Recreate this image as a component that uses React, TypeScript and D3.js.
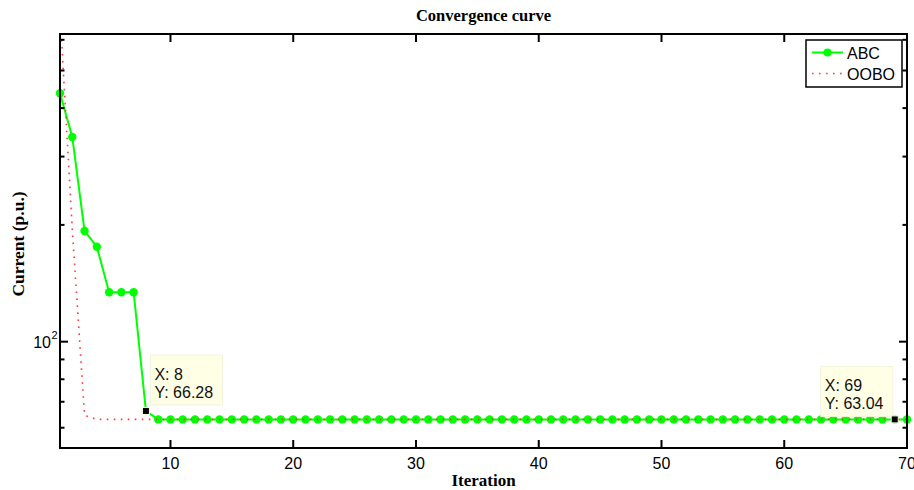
import React from "react";
import * as d3 from "d3";

const abcIter: number[] = Array.from({ length: 70 }, (_, i) => i + 1);
const abcHead: number[] = [436.8, 337, 192.9, 175.7, 134.1, 134.1, 134.1, 66.28];
const abcTailValue = 63.04;
const abcValues: number[] = abcIter.map((it) => (it <= abcHead.length ? abcHead[it - 1] : abcTailValue));

const ooboHead: number[] = [708, 195, 64.6];
const ooboValues: number[] = abcIter.map((it) => (it <= ooboHead.length ? ooboHead[it - 1] : abcTailValue));

const xTicks: number[] = [10, 20, 30, 40, 50, 60, 70];
const yMajorTicks: number[] = [100];
const yMinorTicks: number[] = [60, 70, 80, 90, 200, 300, 400, 500, 600];
const seriesNames: string[] = ["ABC", "OOBO"];
const tips = [
  { x: 8, y: 66.28 },
  { x: 69, y: 63.04 },
];

const W = 914;
const H = 490;
const L = 60;
const R = 907;
const T = 34;
const B = 448;

export default function App() {
  const x = d3.scaleLinear().domain([1, 70]).range([L, R]);
  const y = d3.scaleLog().domain([53.2, 621]).range([B, T]);
  const green = "#00ff00";
  const red = "#ff3b3b";
  const line = d3
    .line<number>()
    .x((_, i) => x(abcIter[i]))
    .y((d) => y(d));
  const sans = "'Liberation Sans', Arial, sans-serif";
  const serif = "'Liberation Serif', 'Times New Roman', serif";

  return (
    <svg width={W} height={H} style={{ position: "absolute", left: 0, top: 0, background: "#fff" }}>
      <defs>
        <clipPath id="plotclip">
          <rect x={L} y={T} width={R - L} height={B - T} />
        </clipPath>
      </defs>
      <rect x={0} y={0} width={W} height={H} fill="#fff" />
      {/* title */}
      <text x={(L + R) / 2} y={21} textAnchor="middle" fontFamily={serif} fontWeight="bold" fontSize={16.5}>
        Convergence curve
      </text>
      {/* ABC line */}
      <path d={line(abcValues) || ""} fill="none" stroke={green} strokeWidth={2} />
      {abcValues.map((v, i) => (
        <circle key={i} cx={x(abcIter[i])} cy={y(v)} r={4.2} fill={green} />
      ))}
      {/* OOBO line */}
      <path
        d={line(ooboValues) || ""}
        fill="none"
        stroke={red}
        strokeWidth={1.6}
        strokeDasharray="1.6 5.4"
        clipPath="url(#plotclip)"
      />
      {/* axes frame */}
      <rect x={L} y={T} width={R - L} height={B - T} fill="none" stroke="#000" strokeWidth={2} />
      {/* x ticks */}
      {xTicks.map((t) => (
        <g key={"xt" + t}>
          <line x1={x(t)} x2={x(t)} y1={B} y2={B - 8} stroke="#000" strokeWidth={2} />
          <line x1={x(t)} x2={x(t)} y1={T} y2={T + 8} stroke="#000" strokeWidth={2} />
          <text x={x(t)} y={469} textAnchor="middle" fontFamily={sans} fontSize={16}>
            {t}
          </text>
        </g>
      ))}
      {/* y ticks */}
      {yMajorTicks.map((t) => (
        <g key={"ym" + t}>
          <line x1={L} x2={L + 8} y1={y(t)} y2={y(t)} stroke="#000" strokeWidth={2} />
          <line x1={R} x2={R - 8} y1={y(t)} y2={y(t)} stroke="#000" strokeWidth={2} />
          <text x={51} y={y(t) + 6} textAnchor="end" fontFamily={sans} fontSize={16}>
            10
          </text>
          <text x={51.5} y={y(t) - 3} fontFamily={sans} fontSize={11}>
            2
          </text>
        </g>
      ))}
      {yMinorTicks.map((t) => (
        <g key={"yn" + t}>
          <line x1={L} x2={L + 4.5} y1={y(t)} y2={y(t)} stroke="#000" strokeWidth={2} />
          <line x1={R} x2={R - 4.5} y1={y(t)} y2={y(t)} stroke="#000" strokeWidth={2} />
        </g>
      ))}
      {/* axis labels */}
      <text x={(L + R) / 2} y={486} textAnchor="middle" fontFamily={serif} fontWeight="bold" fontSize={17}>
        Iteration
      </text>
      <text
        transform={`translate(24,${(T + B) / 2 + 3}) rotate(-90)`}
        textAnchor="middle"
        fontFamily={serif}
        fontWeight="bold"
        fontSize={17.5}
      >
        Current (p.u.)
      </text>
      {/* data tips */}
      {tips.map((tp, i) => {
        const px = x(tp.x);
        const py = y(tp.y);
        const bx = i === 0 ? px + 4.5 : px - 74;
        const by = i === 0 ? py - 56 : py - 53;
        return (
          <g key={"tip" + i}>
            <rect x={bx} y={by} width={72} height={50} fill="#ffffe6" stroke="#f2f2dc" strokeWidth={1} />
            <text x={bx + 4} y={by + 25} fontFamily={sans} fontSize={16} fill="#111">
              {"X: " + tp.x}
            </text>
            <text x={bx + 4} y={by + 43} fontFamily={sans} fontSize={16} fill="#111">
              {"Y: " + tp.y.toFixed(2)}
            </text>
            <rect x={px - 3.5} y={py - 3.5} width={7} height={7} fill="#000" stroke="#fffff0" strokeWidth={1} />
          </g>
        );
      })}
      {/* legend */}
      <g>
        <rect x={806} y={40} width={96} height={47} fill="#fff" stroke="#000" strokeWidth={1.5} />
        <line x1={812} x2={843} y1={52.5} y2={52.5} stroke={green} strokeWidth={2} />
        <circle cx={827.5} cy={52.5} r={4} fill={green} />
        <text x={847} y={58.5} fontFamily={sans} fontSize={16}>
          {seriesNames[0]}
        </text>
        <line x1={812} x2={843} y1={73.5} y2={73.5} stroke={red} strokeWidth={1.6} strokeDasharray="1.6 5.4" />
        <text x={847} y={79.5} fontFamily={sans} fontSize={16}>
          {seriesNames[1]}
        </text>
      </g>
    </svg>
  );
}
